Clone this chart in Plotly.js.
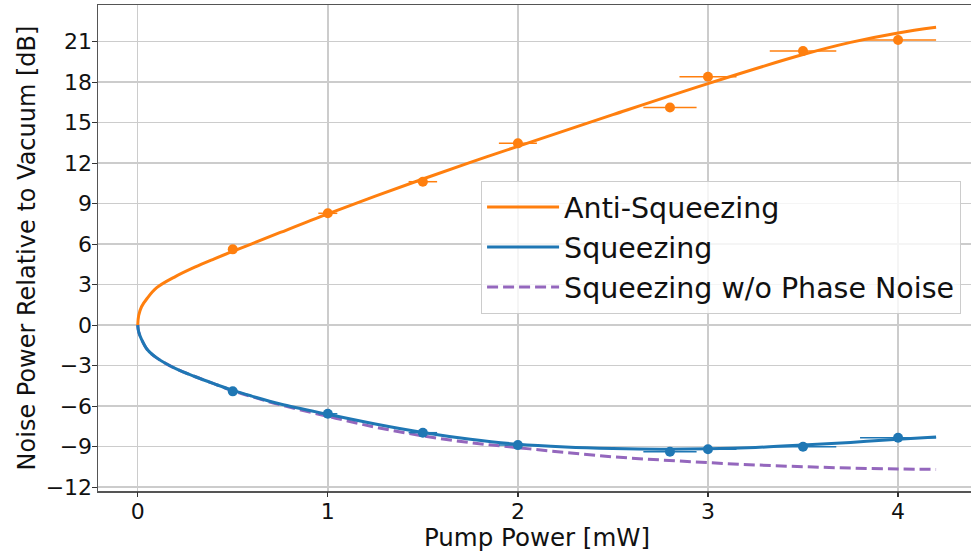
<!DOCTYPE html>
<html>
<head>
<meta charset="utf-8">
<script src="https://cdn.plot.ly/plotly-3.0.1.min.js"></script>
<style>
html, body { margin: 0; padding: 0; overflow: hidden; background: #fff; }
#chart { width: 980px; height: 552px; }
</style>
</head>
<body>
<div id="chart"></div>
<script>
// Measured data points
const pumpPower = [0.5, 1.0, 1.5, 2.0, 2.8, 3.0, 3.5, 4.0];
const pumpErr = [0.025, 0.05, 0.075, 0.1, 0.14, 0.15, 0.175, 0.2];
const antiSqzData = [5.62, 8.29, 10.63, 13.47, 16.13, 18.41, 20.31, 21.13];
const sqzData = [-4.90, -6.56, -7.96, -8.88, -9.37, -9.19, -9.00, -8.33];

// Theory curves
const antiFitX = [0, 0.005, 0.02, 0.05, 0.1, 0.2, 0.3, 0.4, 0.5, 0.6, 0.75, 1.0, 1.25, 1.5, 1.75, 2.0, 2.5, 3.0, 3.5, 3.75, 4.0, 4.2];
const antiFit = [0, 0.72, 1.37, 2.0, 2.78, 3.62, 4.3, 4.9, 5.47, 6.03, 6.87, 8.25, 9.56, 10.83, 12.06, 13.25, 15.6, 17.9, 20.05, 20.95, 21.65, 22.07];
const sqzFitX = [0, 0.005, 0.02, 0.05, 0.1, 0.2, 0.3, 0.4, 0.5, 0.6, 0.75, 1.0, 1.25, 1.5, 1.75, 2.0, 2.25, 2.5, 2.75, 3.0, 3.25, 3.5, 3.75, 4.0, 4.2];
const sqzFit = [0, -0.5, -1.05, -1.8, -2.42, -3.22, -3.8, -4.33, -4.83, -5.25, -5.83, -6.6, -7.32, -7.95, -8.45, -8.82, -9.02, -9.13, -9.18, -9.15, -9.05, -8.88, -8.68, -8.45, -8.28];
const sqzNoPNFit = [0, -0.5, -1.05, -1.8, -2.42, -3.22, -3.8, -4.33, -4.85, -5.29, -5.9, -6.75, -7.55, -8.2, -8.7, -9.07, -9.43, -9.75, -9.98, -10.18, -10.35, -10.48, -10.58, -10.65, -10.68];

const xTicks = [0, 1, 2, 3, 4];
const yTicks = [-12, -9, -6, -3, 0, 3, 6, 9, 12, 15, 18, 21];
const xRange = [-0.209, 4.41];
const yRange = [-12.28, 23.72];

const ORANGE = '#ff7f0e', BLUE = '#1f77b4', PURPLE = '#9467bd';
const FONT = 'DejaVu Sans, sans-serif';

const traces = [
  { x: antiFitX, y: antiFit, mode: 'lines', name: 'Anti-Squeezing', legendgroup: 'a', legendrank: 1,
    line: { color: ORANGE, width: 3, shape: 'spline', smoothing: 1 } },
  { x: sqzFitX, y: sqzNoPNFit, mode: 'lines', name: 'Squeezing w/o Phase Noise', legendgroup: 'c', legendrank: 3,
    line: { color: PURPLE, width: 3, dash: '11px,5px', shape: 'spline', smoothing: 1 } },
  { x: sqzFitX, y: sqzFit, mode: 'lines', name: 'Squeezing', legendgroup: 'b', legendrank: 2,
    line: { color: BLUE, width: 3, shape: 'spline', smoothing: 1 } },
  { x: pumpPower, y: antiSqzData, mode: 'markers', showlegend: false,
    marker: { color: ORANGE, size: 10 },
    error_x: { type: 'data', array: pumpErr, color: ORANGE, thickness: 1.5, width: 0 } },
  { x: pumpPower, y: sqzData, mode: 'markers', showlegend: false,
    marker: { color: BLUE, size: 10 },
    error_x: { type: 'data', array: pumpErr, color: BLUE, thickness: 1.5, width: 0 } },
  // empty trace so the tick-mark overlay axes are drawn
  { x: [], y: [], xaxis: 'x2', yaxis: 'y2', mode: 'markers', showlegend: false, hoverinfo: 'skip' }
];

const tickFont = { family: FONT, size: 22, color: '#111111' };

const layout = {
  width: 980, height: 552,
  margin: { l: 98, r: 3.5, t: 5, b: 61 },
  paper_bgcolor: '#ffffff', plot_bgcolor: '#ffffff',
  font: { family: FONT, color: '#111111' },
  xaxis: {
    range: xRange, tickvals: xTicks, ticks: '', tickfont: tickFont,
    showgrid: true, gridcolor: '#cccccc', gridwidth: 1.5, zeroline: false,
    showline: true, linecolor: '#555555', linewidth: 1.5, mirror: true,
    title: { text: 'Pump Power [mW]', font: { family: FONT, size: 24.5, color: '#111111' }, standoff: 7 }
  },
  yaxis: {
    range: yRange, tickvals: yTicks, ticks: '', tickfont: tickFont,
    showgrid: true, gridcolor: '#cccccc', gridwidth: 1.5, zeroline: false,
    showline: true, linecolor: '#555555', linewidth: 1.5, mirror: true,
    title: { text: 'Noise Power Relative to Vacuum [dB]', font: { family: FONT, size: 24, color: '#111111' }, standoff: 3 }
  },
  xaxis2: {
    overlaying: 'x', anchor: 'y2', side: 'bottom', range: xRange, tickvals: xTicks,
    ticks: 'outside', ticklen: 5, tickwidth: 1.2, tickcolor: '#333333',
    showticklabels: false, showgrid: false, zeroline: false, showline: false
  },
  yaxis2: {
    overlaying: 'y', anchor: 'x2', side: 'left', range: yRange, tickvals: yTicks,
    ticks: 'outside', ticklen: 5, tickwidth: 1.2, tickcolor: '#333333',
    showticklabels: false, showgrid: false, zeroline: false, showline: false
  },
  showlegend: true,
  legend: {
    x: 0.983, y: 0.638, xanchor: 'right', yanchor: 'top',
    bgcolor: 'rgba(255,255,255,0.8)', bordercolor: '#cccccc', borderwidth: 1,
    font: { family: FONT, size: 28.5, color: '#111111' },
    tracegroupgap: 0, itemwidth: 72
  }
};

Plotly.newPlot('chart', traces, layout, { displayModeBar: false, staticPlot: true });
</script>
</body>
</html>
